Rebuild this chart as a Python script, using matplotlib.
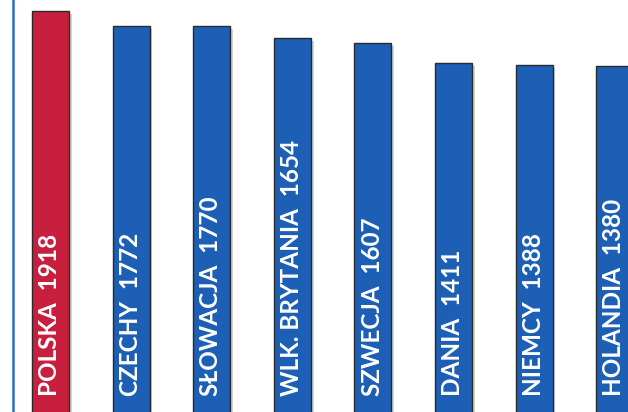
import matplotlib.pyplot as plt
from matplotlib.transforms import blended_transform_factory

countries = ['POLSKA', 'CZECHY', 'SŁOWACJA', 'WLK. BRYTANIA', 'SZWECJA',
             'DANIA', 'NIEMCY', 'HOLANDIA']
hours = [1918, 1772, 1770, 1654, 1607, 1411, 1388, 1380]
colors = ['#c81f3e'] + ['#1c5fb5'] * 7

fig = plt.figure(figsize=(6.28, 4.12), dpi=100)
ax = fig.add_axes([0, 0, 1, 1])

# bars start below the visible area, only the tops show
floor = -2300
xs = range(len(hours))
heights = [h - floor for h in hours]

# soft drop shadow on the right side of each bar
ax.bar([x + 0.035 for x in xs], heights, bottom=floor - 30, width=0.46,
       color='#d4d4d4', linewidth=0, zorder=1)
ax.bar(xs, heights, bottom=floor, width=0.46,
       color=colors, edgecolor='#2a2a2a', linewidth=1.0, zorder=2)

ax.set_xlim(-0.627, 7.165)
ax.set_ylim(-2004, 2026)
ax.axis('off')

# thin blue frame line on the left
ax.axvline(-0.47, color='#2a6cc4', linewidth=1.8, zorder=1)

trans = blended_transform_factory(ax.transData, ax.transAxes)
for i, (name, h) in enumerate(zip(countries, hours)):
    ax.text(i - 0.01, 0.038, f'{name}  {h}', transform=trans, rotation=90,
            ha='center', va='bottom', color='white', fontsize=17.5,
            family='Lato', fontweight='bold', zorder=3)

fig.savefig('out.png', dpi=100)
